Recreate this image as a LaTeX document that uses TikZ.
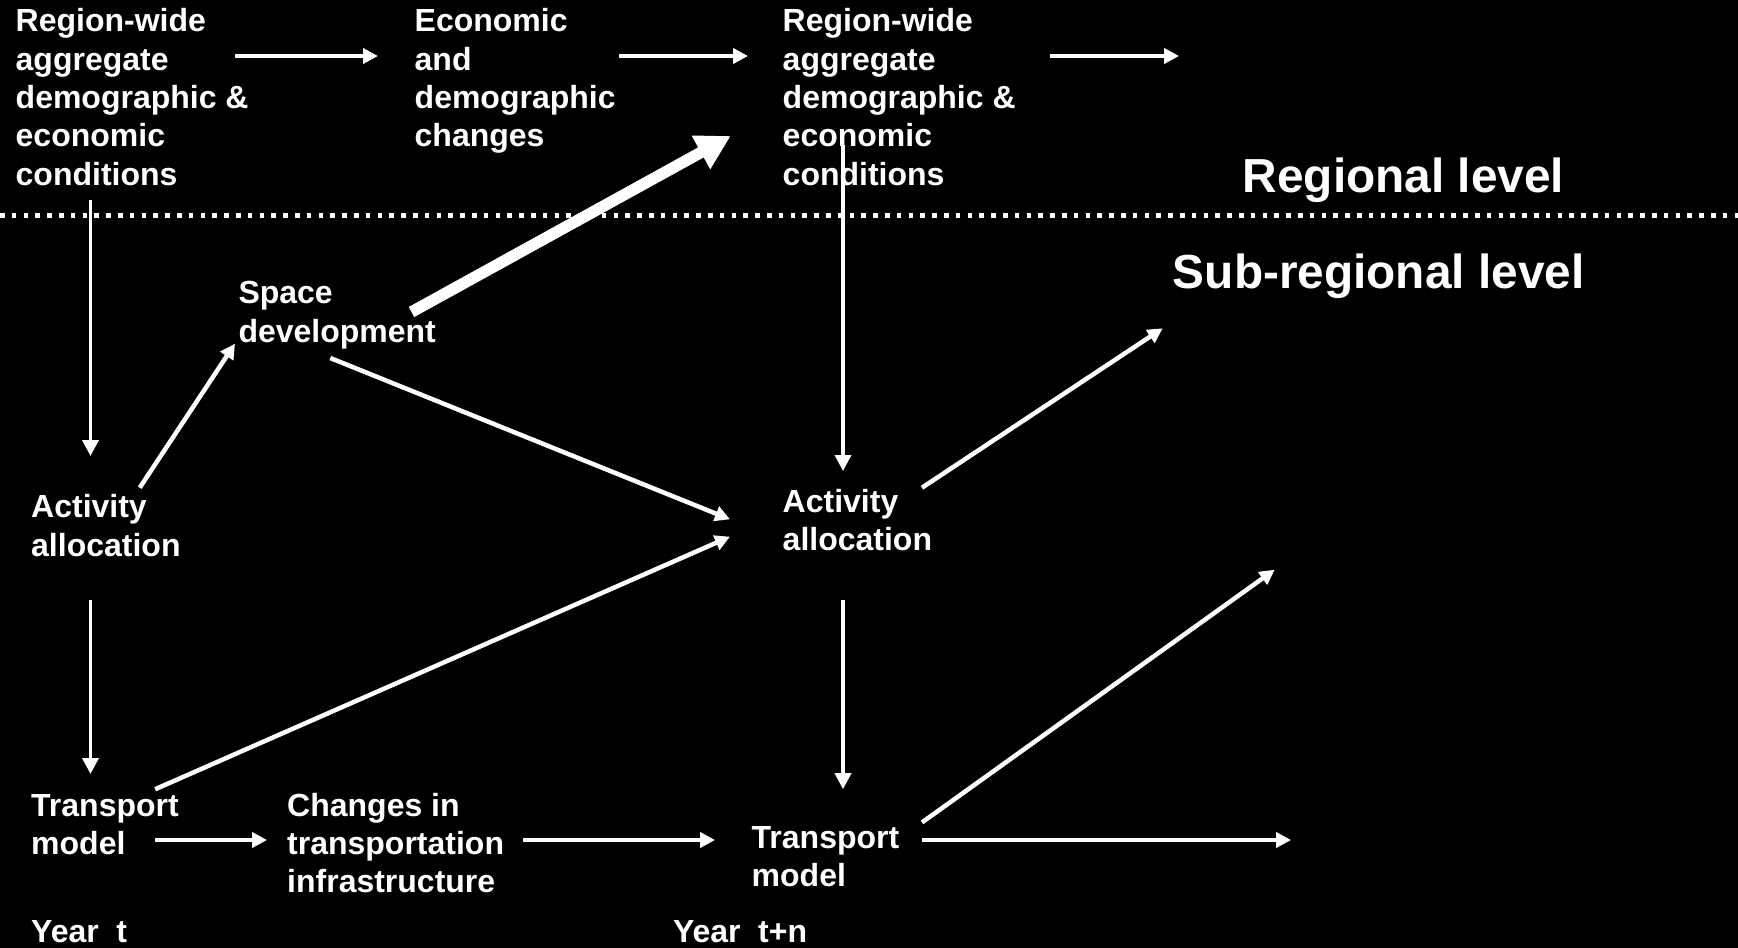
\documentclass[tikz,border=0pt]{standalone}
\usepackage{fontspec}
\setmainfont{Liberation Sans}
\usetikzlibrary{arrows.meta}
\tikzset{
  txt/.style={anchor=north west, inner sep=0pt, align=left, text=white,
    font=\fontsize{32}{38.3}\selectfont\bfseries},
  one/.style={anchor=base west, inner sep=0pt, text=white,
    font=\fontsize{32}{38.3}\selectfont\bfseries},
  big/.style={anchor=base west, inner sep=0pt, text=white,
    font=\fontsize{47.8}{56}\selectfont\bfseries},
  arr/.style={draw=white, line width=4.5pt, -{Triangle[length=15pt,width=15pt]}},
  varr/.style={draw=white, line width=3.5pt, -{Triangle[length=16pt,width=16pt]}},
  thickarr/.style={draw=white, line width=11.5pt, -{Triangle[length=34pt,width=36pt]}},
  levelline/.style={draw=white, line width=5pt, dash pattern=on 4.5pt off 7.3pt}
}
\begin{document}
\begin{tikzpicture}[x=1pt,y=-1pt]
\fill[black] (0,0) rectangle (1738,948);
\useasboundingbox (0,0) rectangle (1738,948);

% level separator
\coordinate (ls) at (0,215);
\coordinate (le) at (1738,215);
\draw[levelline] (ls) -- (le);

% text blocks
\node[txt] (reg1) at (15.5,4.9) {\strut Region-wide\\aggregate\\demographic \&\\economic\\conditions};
\node[txt] (econ) at (414.5,4.9) {\strut Economic\\and\\demographic\\changes};
\node[txt] (reg2) at (782.5,4.9) {\strut Region-wide\\aggregate\\demographic \&\\economic\\conditions};
\node[txt] (space) at (238.3,276.9) {\strut Space\\development};
\node[txt] (actL) at (31,490.8) {\strut Activity\\allocation};
\node[txt] (actR) at (782.5,485.2) {\strut Activity\\allocation};
\node[txt] (trL) at (31,789) {\strut Transport\\model};
\node[txt] (chg) at (287,789) {\strut Changes in\\transportation\\infrastructure};
\node[txt] (trR) at (751.5,821.2) {\strut Transport\\model};
\node[one] (yearT) at (31,942.5) {Year\hspace{0.55em}t};
\node[one] (yearTn) at (672.8,942.5) {Year\hspace{0.55em}t+n};
\node[big] (regional) at (1242.5,192) {Regional level};
\node[big] (subregional) at (1172.7,288) {Sub-regional level};

% connector end points
\coordinate (a1s) at (235,56);    \coordinate (a1e) at (378,56);
\coordinate (a2s) at (618.5,56);  \coordinate (a2e) at (748,56);
\coordinate (a3s) at (1049.7,56); \coordinate (a3e) at (1179,56);
\coordinate (v1s) at (90.5,200);  \coordinate (v1e) at (90.5,456);
\coordinate (v2s) at (90.5,599.6);\coordinate (v2e) at (90.5,774);
\coordinate (v3s) at (843,145);   \coordinate (v3e) at (843,471);
\coordinate (v4s) at (843,599.6); \coordinate (v4e) at (843,789.2);
\coordinate (d1s) at (139.7,487.7); \coordinate (d1e) at (235,343.6);
\coordinate (d2s) at (411.5,312);   \coordinate (d2e) at (730.7,136);
\coordinate (d3s) at (330.3,358);   \coordinate (d3e) at (730,519.3);
\coordinate (d4s) at (155.2,789.2); \coordinate (d4e) at (730,536.7);
\coordinate (d5s) at (922,822.4);   \coordinate (d5e) at (1274.7,569.7);
\coordinate (d6s) at (922,487.7);   \coordinate (d6e) at (1162.7,328.3);
\coordinate (h1s) at (155.2,840);   \coordinate (h1e) at (267,840);
\coordinate (h2s) at (523,840);     \coordinate (h2e) at (715,840);
\coordinate (h3s) at (922,840);     \coordinate (h3e) at (1291,840);

% connectors
\draw[arr] (a1s) -- (a1e);
\draw[arr] (a2s) -- (a2e);
\draw[arr] (a3s) -- (a3e);
\draw[varr] (v1s) -- (v1e);
\draw[varr] (v2s) -- (v2e);
\draw[varr] (v3s) -- (v3e);
\draw[varr] (v4s) -- (v4e);
\draw[arr] (d1s) -- (d1e);
\draw[thickarr] (d2s) -- (d2e);
\draw[arr] (d3s) -- (d3e);
\draw[arr] (d4s) -- (d4e);
\draw[arr] (d5s) -- (d5e);
\draw[arr] (d6s) -- (d6e);
\draw[arr] (h1s) -- (h1e);
\draw[arr] (h2s) -- (h2e);
\draw[arr] (h3s) -- (h3e);
\end{tikzpicture}
\end{document}
